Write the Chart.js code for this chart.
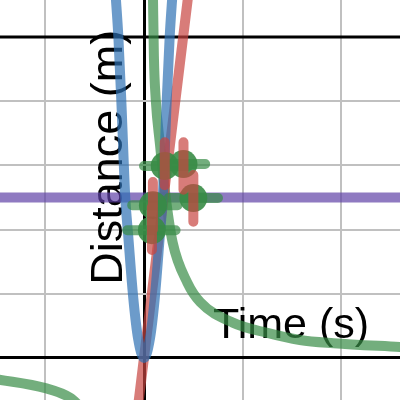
<!DOCTYPE html>
<html>
<head>
<meta charset="utf-8">
<script src="https://cdn.jsdelivr.net/npm/chart.js@4.4.1/dist/chart.umd.min.js"></script>
<style>
  html, body { margin: 0; padding: 0; background: #fff; }
  #graph { display: block; }
</style>
</head>
<body>
<canvas id="graph" width="400" height="400"></canvas>
<script>
  "use strict";

  // Visible window of the graph paper
  var xMin = -1.46, xMax = 2.595;
  var yMin = -0.655, yMax = 5.575;

  // Blue parabola
  var blueX = [-0.29, -0.26, -0.23, -0.19, -0.16, -0.11, -0.06, 0, 0.06, 0.11, 0.16, 0.19, 0.23, 0.26, 0.29];
  var blueY = [5.7, 5.0, 4.0, 2.5, 1.9, 0.95, 0.3, 0, 0.3, 0.95, 1.9, 2.5, 4.0, 5.0, 5.7];

  // Red straight line
  var redX = [-0.1, 0.5];
  var redY = [-1.25, 6.3];

  // Green curve, upper and lower branch
  var greenX = [0.09, 0.1, 0.12, 0.16, 0.22, 0.29, 0.44, 0.57, 0.9, 1.25, 1.58, 1.92, 2.6];
  var greenY = [5.7, 4.7, 4.0, 3.35, 2.5, 1.8, 1.17, 0.87, 0.55, 0.39, 0.28, 0.23, 0.17];
  var greenLowX = [-1.5, -1.0, -0.75, -0.62];
  var greenLowY = [-0.33, -0.47, -0.62, -0.8];

  // Horizontal lines
  var purpleY = 2.5;
  var blackY = 5;

  // Measured points with error bars
  var ptX = [0.21, 0.4, 0.5, 0.09, 0.08];
  var ptY = [2.99, 3.02, 2.49, 2.38, 1.99];
  var errXLo = [0.0, 0.17, 0.25, -0.12, -0.17];
  var errXHi = [0.45, 0.62, 0.75, 0.34, 0.32];
  var errYLo = [2.69, 2.62, 2.12, 2.0, 1.68];
  var errYHi = [3.36, 3.36, 2.85, 2.74, 2.35];

  var xLabel = "Time (s)";
  var yLabel = "Distance (m)";

  function pts(xs, ys) {
    return xs.map(function (x, i) { return { x: x, y: ys[i] }; });
  }

  var vBars = [], hBars = [];
  ptX.forEach(function (x, i) {
    vBars.push({ x: x, y: errYLo[i] }, { x: x, y: errYHi[i] }, { x: x, y: null });
    hBars.push({ x: errXLo[i], y: ptY[i] }, { x: errXHi[i], y: ptY[i] }, { x: errXHi[i], y: null });
  });

  var BLUE = "rgba(45,112,179,0.7)";
  var RED = "rgba(199,68,64,0.7)";
  var GREEN = "rgba(56,140,70,0.7)";
  var PURPLE = "rgba(96,66,166,0.7)";

  function curve(data, color, extra) {
    var ds = {
      data: data,
      borderColor: color,
      borderWidth: 10,
      pointRadius: 0,
      fill: false,
      showLine: true,
      cubicInterpolationMode: "monotone",
      borderCapStyle: "round",
      borderJoinStyle: "round",
    };
    for (var k in extra) ds[k] = extra[k];
    return ds;
  }

  // axis titles sit under the curves
  var labels = {
    id: "labels",
    beforeDatasetsDraw: function (chart) {
      var c = chart.ctx, sx = chart.scales.x, sy = chart.scales.y;
      c.save();
      c.fillStyle = "#000";
      c.font = "43px 'Liberation Sans', Arial, sans-serif";
      c.textBaseline = "alphabetic";
      c.textAlign = "left";
      c.fillText(xLabel, sx.getPixelForValue(0.7), sy.getPixelForValue(0.31));
      c.translate(sx.getPixelForValue(-0.22), sy.getPixelForValue(1.14));
      c.rotate(-Math.PI / 2);
      c.font = "45px 'Liberation Sans', Arial, sans-serif";
      c.fillText(yLabel, 0, 0);
      c.restore();
    },
  };

  var gridColor = function (ctx) {
    return ctx.tick && ctx.tick.value === 0 ? "#000" : "#c0c0c0";
  };
  var gridWidth = function (ctx) {
    return ctx.tick && ctx.tick.value === 0 ? 3 : 2;
  };

  var chart = new Chart(document.getElementById("graph").getContext("2d"), {
    type: "scatter",
    data: {
      datasets: [
        curve(vBars, RED, { cubicInterpolationMode: "default", tension: 0 }),
        curve(hBars, GREEN, { cubicInterpolationMode: "default", tension: 0 }),
        {
          data: pts(ptX, ptY),
          pointRadius: 14,
          pointBackgroundColor: "rgba(56,140,70,0.9)",
          pointBorderWidth: 0,
          showLine: false,
        },
        curve(pts(blueX, blueY), BLUE),
        curve(pts(redX, redY), RED),
        curve(pts(greenX, greenY), GREEN),
        curve(pts(greenLowX, greenLowY), GREEN),
        curve(pts([xMin - 1, xMax + 1], [purpleY, purpleY]), PURPLE),
        curve(pts([xMin - 1, xMax + 1], [blackY, blackY]), "#000", { borderWidth: 3 }),
      ],
    },
    options: {
      responsive: false,
      animation: false,
      layout: { padding: 0, autoPadding: false },
      plugins: { legend: { display: false }, tooltip: { enabled: false } },
      scales: {
        x: {
          type: "linear",
          min: xMin,
          max: xMax,
          ticks: { display: false, stepSize: 1, includeBounds: false },
          grid: { color: gridColor, lineWidth: gridWidth, drawTicks: false },
          border: { display: false },
        },
        y: {
          type: "linear",
          min: yMin,
          max: yMax,
          ticks: { display: false, stepSize: 1, includeBounds: false },
          grid: { color: gridColor, lineWidth: gridWidth, drawTicks: false },
          border: { display: false },
        },
      },
    },
    plugins: [labels],
  });
</script>
</body>
</html>
